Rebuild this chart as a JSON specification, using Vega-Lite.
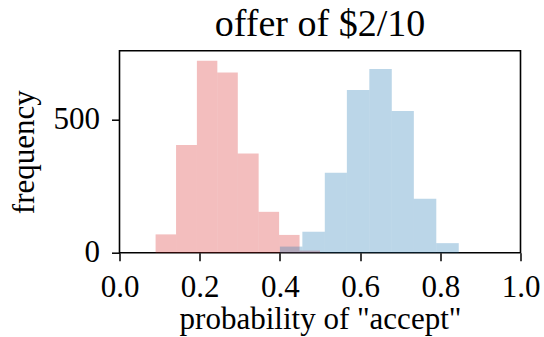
{
  "$schema": "https://vega.github.io/schema/vega-lite/v6.json",
  "width": 401,
  "height": 202,
  "autosize": "none",
  "padding": {"left": 119.5, "top": 50.7, "right": 23.5, "bottom": 84.3},
  "background": "white",
  "title": {"text": "offer of $2/10", "font": "Liberation Serif", "fontSize": 38, "fontWeight": "normal", "anchor": "middle", "offset": 7, "color": "black"},
  "config": {
    "view": {"stroke": "black", "strokeWidth": 1.6},
    "axis": {
      "domain": false, "grid": false,
      "ticks": true, "tickColor": "black", "tickSize": 8, "tickWidth": 1.5,
      "labelFont": "Liberation Serif", "labelFontSize": 31, "labelColor": "black",
      "titleFont": "Liberation Serif", "titleFontSize": 31, "titleFontWeight": "normal", "titleColor": "black"
    }
  },
  "data": {"values": [
    {"group": "a", "start": 0.090, "end": 0.141, "count": 69},
    {"group": "a", "start": 0.141, "end": 0.193, "count": 406},
    {"group": "a", "start": 0.193, "end": 0.244, "count": 723},
    {"group": "a", "start": 0.244, "end": 0.295, "count": 679},
    {"group": "a", "start": 0.295, "end": 0.347, "count": 374},
    {"group": "a", "start": 0.347, "end": 0.398, "count": 154},
    {"group": "a", "start": 0.398, "end": 0.449, "count": 67},
    {"group": "a", "start": 0.449, "end": 0.500, "count": 8},
    {"group": "b", "start": 0.400, "end": 0.456, "count": 23},
    {"group": "b", "start": 0.456, "end": 0.512, "count": 79},
    {"group": "b", "start": 0.512, "end": 0.567, "count": 301},
    {"group": "b", "start": 0.567, "end": 0.623, "count": 613},
    {"group": "b", "start": 0.623, "end": 0.679, "count": 692},
    {"group": "b", "start": 0.679, "end": 0.734, "count": 534},
    {"group": "b", "start": 0.734, "end": 0.790, "count": 203},
    {"group": "b", "start": 0.790, "end": 0.846, "count": 36}
  ]},
  "mark": {"type": "bar", "opacity": 0.3, "cornerRadius": 0},
  "encoding": {
    "x": {"field": "start", "type": "quantitative", "scale": {"domain": [0, 1], "nice": false, "zero": false},
          "axis": {"title": "probability of \"accept\"", "values": [0, 0.2, 0.4, 0.6, 0.8, 1.0], "format": ".1f", "labelFlush": false, "labelPadding": 12, "titlePadding": 2}},
    "x2": {"field": "end"},
    "y": {"field": "count", "type": "quantitative", "stack": null, "scale": {"domain": [0, 761], "nice": false},
          "axis": {"title": "frequency", "values": [0, 500], "labelPadding": 12, "titlePadding": 13}},
    "y2": {"datum": 0},
    "color": {"field": "group", "type": "nominal", "scale": {"domain": ["a", "b"], "range": ["#d62728", "#1f77b4"]}, "legend": null}
  }
}
